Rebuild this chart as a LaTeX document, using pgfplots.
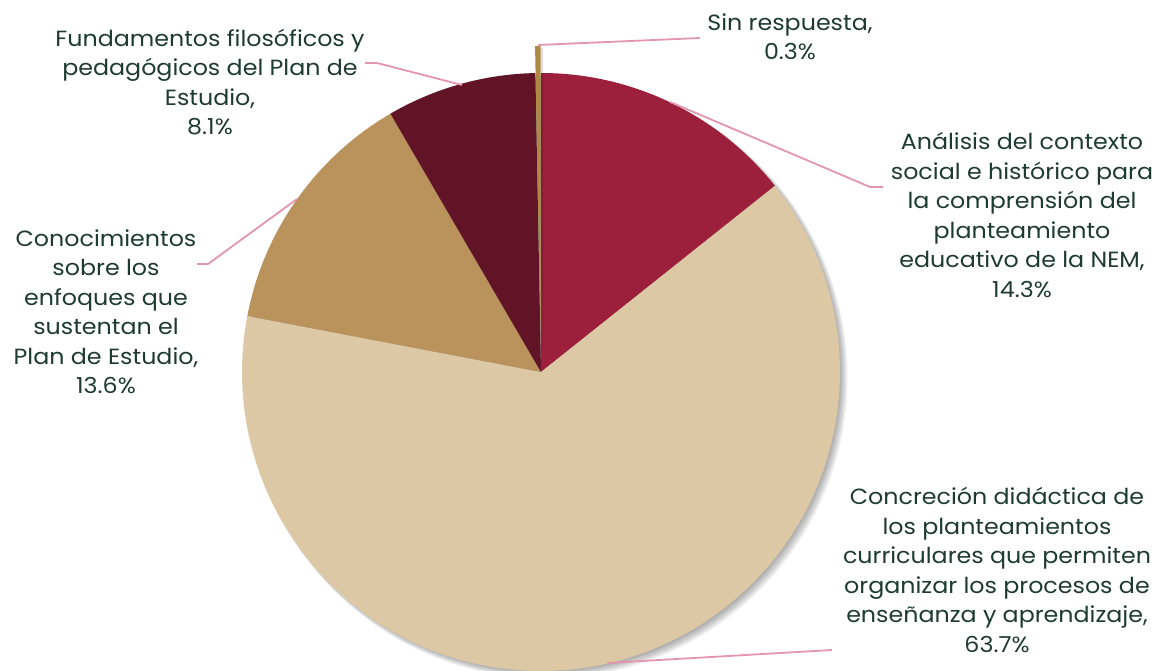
\documentclass[border=0pt]{standalone}
\usepackage{pgfplots}
\pgfplotsset{compat=1.18}
\usepackage{fontspec}
\setmainfont{Poppins}[FakeStretch=1.08]
\definecolor{cA}{HTML}{9C1F3C}
\definecolor{cB}{HTML}{DCC8A5}
\definecolor{cC}{HTML}{BA935C}
\definecolor{cD}{HTML}{611426}
\definecolor{cE}{HTML}{B08A45}
\definecolor{txt}{HTML}{1D3B31}
\definecolor{lead}{HTML}{E295AC}
% values (percent), clockwise from 12 o'clock
\def\vA{14.3}\def\vB{63.7}\def\vC{13.6}\def\vD{8.1}\def\vE{0.3}
\begin{document}
\begin{tikzpicture}
\begin{axis}[name=ax,width=1162pt,height=670pt,scale only axis,
  xmin=0,xmax=1162,ymin=0,ymax=670,hide axis,clip=false]
% shadow
\pgfplotsinvokeforeach{1,2,3,4,5,6,7}{
  \fill[black,opacity=0.065] (axis cs:{541+0.8*#1},{298-0.8*#1}) circle[radius={296pt+0.7pt*#1}];
}
% wedges
\fill[cA] (axis cs:541,298) -- ++(90:299pt) arc[start angle=90, end angle={90-3.6*\vA}, radius=299pt] -- cycle;
\fill[cB] (axis cs:541,298) -- ++({90-3.6*\vA}:299pt) arc[start angle={90-3.6*\vA}, end angle={90-3.6*(\vA+\vB)}, radius=299pt] -- cycle;
\fill[cC] (axis cs:541,298) -- ++({90-3.6*(\vA+\vB)}:299pt) arc[start angle={90-3.6*(\vA+\vB)}, end angle={90-3.6*(\vA+\vB+\vC)}, radius=299pt] -- cycle;
\fill[cD] (axis cs:541,298) -- ++({90-3.6*(\vA+\vB+\vC)}:299pt) arc[start angle={90-3.6*(\vA+\vB+\vC)}, end angle={90-3.6*(\vA+\vB+\vC+\vD)}, radius=299pt] -- cycle;
% exploded slice
\fill[black,opacity=0.12] (axis cs:543,323) -- ++({90-3.6*(\vA+\vB+\vC+\vD)}:299pt) arc[start angle={90-3.6*(\vA+\vB+\vC+\vD)}, end angle={-270}, radius=299pt] -- cycle;
\fill[cE] (axis cs:540.7,325) -- ++({90-3.6*(\vA+\vB+\vC+\vD)}:299pt) arc[start angle={90-3.6*(\vA+\vB+\vC+\vD)}, end angle={-270}, radius=299pt] -- cycle;
% leader lines
\addplot[lead,line width=1.8pt,no markers] coordinates {(538,625) (700,632)};
\addplot[lead,line width=1.8pt,no markers] coordinates {(462,585) (377,607) (365,607)};
\addplot[lead,line width=1.8pt,no markers] coordinates {(670,568) (870,483) (883,483)};
\addplot[lead,line width=1.8pt,no markers] coordinates {(297,471) (208,406) (197,406)};
\addplot[lead,line width=1.8pt,no markers] coordinates {(607,7) (832,20)};
% labels
\tikzset{lbl/.style={align=center,text=txt,font=\fontsize{22}{29.5}\selectfont,inner sep=0pt}}
\node[lbl] at (axis cs:790,633) {Sin respuesta,\\0.3\%};
\node[lbl] at (axis cs:210,588) {Fundamentos filosóficos y\\pedagógicos del Plan de\\Estudio,\\8.1\%};
\node[lbl] at (axis cs:1022,455) {Análisis del contexto\\social e histórico para\\la comprensión del\\planteamiento\\educativo de la NEM,\\14.3\%};
\node[lbl] at (axis cs:106,358) {Conocimientos\\sobre los\\enfoques que\\sustentan el\\Plan de Estudio,\\13.6\%};
\node[lbl] at (axis cs:997,100) {Concreción didáctica de\\los planteamientos\\curriculares que permiten\\organizar los procesos de\\enseñanza y aprendizaje,\\63.7\%};
\end{axis}
\pgfresetboundingbox
\useasboundingbox (ax.south west) rectangle (ax.north east);
\end{tikzpicture}
\end{document}
